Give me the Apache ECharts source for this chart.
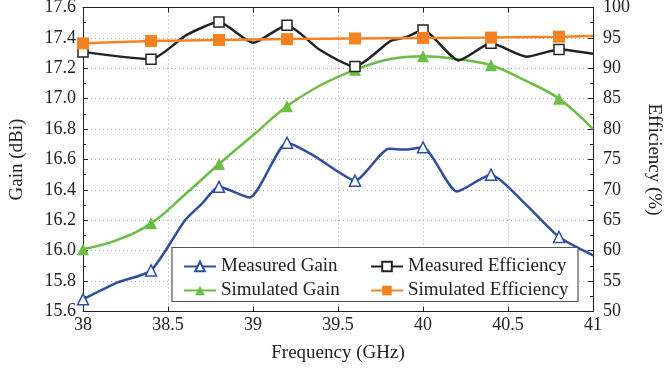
<!DOCTYPE html>
<html>
<head>
<meta charset="utf-8">
<script src="https://cdn.jsdelivr.net/npm/echarts@6/dist/echarts.min.js"></script>
<style>
  body { margin: 0; background: #fff; }
</style>
</head>
<body>
<div id="gainChart" style="width: 665px;height: 370px;"></div>
<script>
// marker positions (GHz)
const markerFreqs = [38, 38.4, 38.8, 39.2, 39.6, 40, 40.4, 40.8];

// Measured gain (dBi)
const measGainFreq = [38, 38.2, 38.4, 38.6, 38.7, 38.8, 38.98, 39.2, 39.35, 39.5, 39.6, 39.8, 39.9, 40, 40.2, 40.4, 40.6, 40.8, 41];
const measGain = [15.68, 15.79, 15.87, 16.20, 16.31, 16.42, 16.35, 16.71, 16.63, 16.52, 16.46, 16.67, 16.665, 16.68, 16.39, 16.50, 16.31, 16.09, 15.97];

// Simulated gain (dBi)
const simGainFreq = [38, 38.2, 38.4, 38.6, 38.8, 39, 39.2, 39.4, 39.6, 39.8, 40, 40.2, 40.4, 40.6, 40.8, 41];
const simGain = [16.01, 16.07, 16.18, 16.37, 16.57, 16.76, 16.95, 17.09, 17.19, 17.26, 17.28, 17.26, 17.22, 17.12, 17.00, 16.80];

// Measured efficiency (%)
const measEffFreq = [38, 38.4, 38.61, 38.8, 39, 39.2, 39.39, 39.6, 39.81, 39.9, 40, 40.21, 40.4, 40.61, 40.8, 41];
const measEff = [92.7, 91.5, 95.5, 97.6, 94.2, 97.1, 93.1, 90.3, 94.5, 95.1, 96.3, 91.3, 94.1, 91.9, 93.1, 92.4];

// Simulated efficiency (%)
const simEffFreq = [38, 38.4, 38.8, 39.2, 39.6, 40, 40.4, 40.8, 41];
const simEff = [94.1, 94.5, 94.65, 94.8, 94.9, 95.0, 95.05, 95.2, 95.3];

const font = "Liberation Serif";

function toPoints(freqs, vals) {
  return freqs.map(function (f, i) {
    let item = {value: [f, vals[i]]};
    if (markerFreqs.indexOf(f) < 0) {
      item.symbol = 'none';
    }
    return item;
  });
}

let option = {
  animation: false,
  textStyle: {fontFamily: font},
  grid: {left: 83, right: 72, top: 7.5, bottom: 58.5, outerBoundsMode: 'none', containLabel: false},
  legend: [
    {
      left: 178, top: 252, orient: 'vertical', itemGap: 5,
      itemWidth: 32, itemHeight: 12,
      textStyle: {fontFamily: font, fontSize: 19, color: '#222', lineHeight: 19},
      data: ['Measured Gain', 'Simulated Gain'],
      z: 10
    },
    {
      left: 365, top: 252, orient: 'vertical', itemGap: 5,
      itemWidth: 32, itemHeight: 12,
      textStyle: {fontFamily: font, fontSize: 19, color: '#222', lineHeight: 19},
      data: ['Measured Efficiency', 'Simulated Efficiency'],
      z: 10
    }
  ],
  graphic: [{
    type: 'rect', z: 8,
    shape: {x: 172, y: 247.5, width: 406, height: 54},
    style: {fill: '#fff', stroke: '#555', lineWidth: 1.2}
  }],
  xAxis: [
    {
      type: 'value', min: 38, max: 41, interval: 0.5,
      name: 'Frequency (GHz)', nameLocation: 'middle', nameGap: 32,
      nameTextStyle: {fontFamily: font, fontSize: 19, color: '#222'},
      axisLine: {lineStyle: {color: '#222', width: 1}},
      axisTick: {inside: true, length: 5, lineStyle: {color: '#222'}},
      axisLabel: {fontFamily: font, fontSize: 18, color: '#222', margin: 5},
      splitLine: {show: true, lineStyle: {color: '#aaa', type: [1, 3], width: 1}}
    },
    {
      type: 'value', min: 38, max: 41, interval: 0.5, position: 'top',
      axisLine: {lineStyle: {color: '#222', width: 1}},
      axisTick: {inside: true, length: 5, lineStyle: {color: '#222'}},
      axisLabel: {show: false},
      splitLine: {show: false}
    }
  ],
  yAxis: [
    {
      type: 'value', min: 15.6, max: 17.6, interval: 0.2,
      name: 'Gain (dBi)', nameLocation: 'middle', nameGap: 56, nameRotate: 90,
      nameTextStyle: {fontFamily: font, fontSize: 19, color: '#222'},
      axisLine: {show: true, lineStyle: {color: '#222', width: 1}},
      axisTick: {show: true, inside: true, length: 5, lineStyle: {color: '#222'}},
      minorTick: {show: true, splitNumber: 2, length: 3, lineStyle: {color: '#222'}},
      axisLabel: {
        fontFamily: font, fontSize: 18, color: '#222', margin: 7,
        formatter: function (v) { return v.toFixed(1); }
      },
      splitLine: {show: true, lineStyle: {color: '#aaa', type: [1, 3], width: 1}}
    },
    {
      type: 'value', min: 50, max: 100, interval: 5, position: 'right',
      name: 'Efficiency (%)', nameLocation: 'middle', nameGap: 51, nameRotate: -90,
      nameTextStyle: {fontFamily: font, fontSize: 19, color: '#222'},
      axisLine: {show: true, lineStyle: {color: '#222', width: 1}},
      axisTick: {show: true, inside: true, length: 5, lineStyle: {color: '#222'}},
      minorTick: {show: true, splitNumber: 2, length: 3, lineStyle: {color: '#222'}},
      axisLabel: {fontFamily: font, fontSize: 18, color: '#222', margin: 10},
      splitLine: {show: false}
    }
  ],
  series: [
    {
      name: 'Measured Gain', type: 'line', yAxisIndex: 0, smooth: 0.2,
      data: toPoints(measGainFreq, measGain),
      symbol: 'triangle', symbolSize: 11, showAllSymbol: true,
      lineStyle: {color: '#2f4ea0', width: 2.5},
      itemStyle: {color: '#fff', borderColor: '#2f4ea0', borderWidth: 1.5},
      z: 2
    },
    {
      name: 'Simulated Gain', type: 'line', yAxisIndex: 0, smooth: 0.4,
      data: toPoints(simGainFreq, simGain),
      symbol: 'triangle', symbolSize: 12, showAllSymbol: true,
      lineStyle: {color: '#6abd45', width: 2.5},
      itemStyle: {color: '#6abd45', borderColor: '#6abd45', borderWidth: 0},
      z: 3
    },
    {
      name: 'Measured Efficiency', type: 'line', yAxisIndex: 1, smooth: 0.2,
      data: toPoints(measEffFreq, measEff),
      symbol: 'rect', symbolSize: 10, showAllSymbol: true,
      lineStyle: {color: '#222', width: 2.5},
      itemStyle: {color: '#fff', borderColor: '#222', borderWidth: 1.5},
      z: 4
    },
    {
      name: 'Simulated Efficiency', type: 'line', yAxisIndex: 1,
      data: toPoints(simEffFreq, simEff),
      symbol: 'rect', symbolSize: 12, showAllSymbol: true,
      lineStyle: {color: '#f58220', width: 2.5},
      itemStyle: {color: '#f58220', borderColor: '#f58220', borderWidth: 0},
      z: 5
    }
  ]
};

let gainChart = echarts.init(document.getElementById('gainChart'));
gainChart.setOption(option);
</script>
</body>
</html>
